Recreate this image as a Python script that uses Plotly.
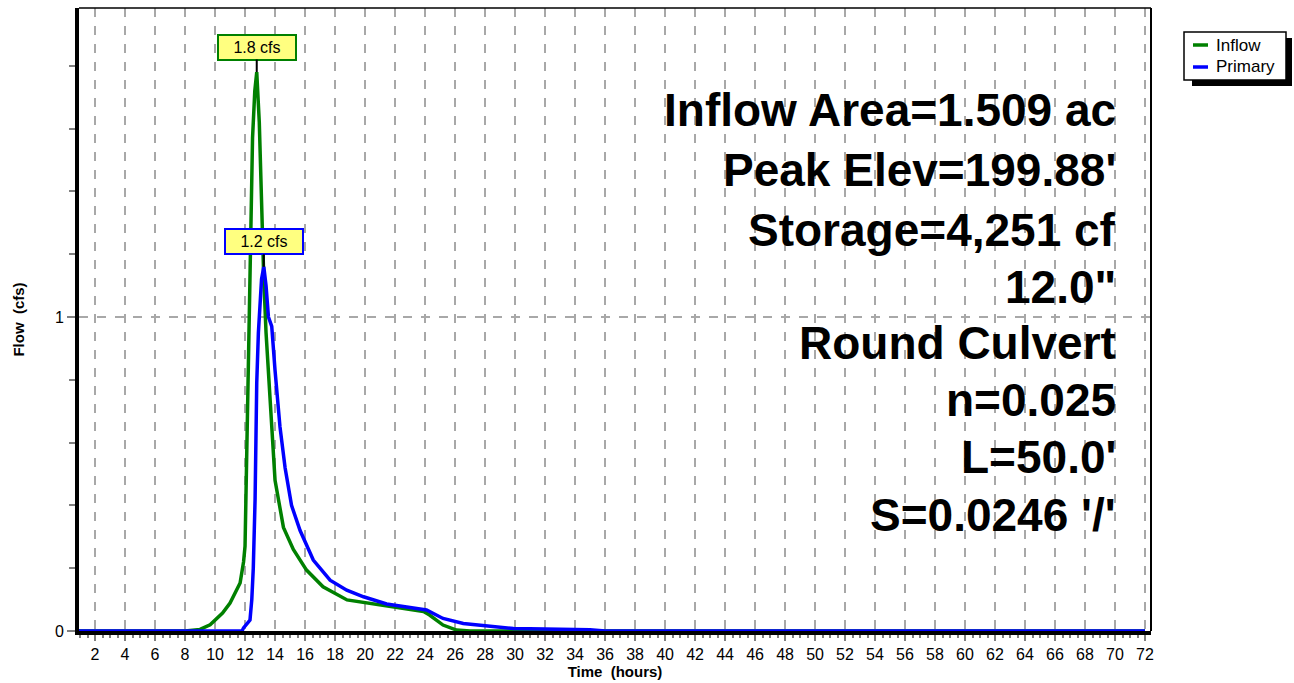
import plotly.graph_objects as go

# ---- data ----
inflow_t = [0, 8.0, 9.0, 9.67, 10.5, 11.0, 11.67, 11.9, 12.0, 12.05, 12.15, 12.3, 12.4, 12.5, 12.65, 12.78,
            12.95, 13.1, 13.25, 13.4, 13.55, 13.7, 13.85, 14.0, 14.56, 15.22, 16.1, 17.2, 18.8, 21.0, 23.9,
            24.3, 25.2, 26.1, 27.0, 72.0]
inflow_q = [0, 0, 0.005, 0.02, 0.057, 0.089, 0.153, 0.22, 0.27, 0.40, 0.70, 0.95, 1.2, 1.57, 1.72, 1.78,
            1.62, 1.36, 1.12, 0.95, 0.82, 0.69, 0.58, 0.48, 0.33, 0.26, 0.194, 0.141, 0.099, 0.083, 0.062,
            0.051, 0.019, 0.003, 0.0, 0.0]

primary_t = [0, 11.8, 11.9, 12.0, 12.33, 12.45, 12.55, 12.67, 12.78, 12.89, 13.0, 13.1, 13.25, 13.4, 13.56,
             13.78, 14.0, 14.33, 14.67, 15.1, 15.67, 16.55, 17.67, 18.78, 19.9, 21.44, 24.1, 25.2, 26.55,
             28.55, 29.9, 32.0, 35.0, 36.0, 72.0]
primary_q = [0, 0, 0.01, 0.015, 0.035, 0.1, 0.2, 0.42, 0.79, 0.95, 1.06, 1.12, 1.16, 1.1, 1.0,
             0.97, 0.83, 0.65, 0.52, 0.40, 0.32, 0.226, 0.162, 0.13, 0.109, 0.086, 0.067, 0.04, 0.024,
             0.014, 0.008, 0.006, 0.004, 0.0, 0.0]

series_names = ["Inflow", "Primary"]
peak_labels = ["1.8 cfs", "1.2 cfs"]
peak_points = [(12.78, 1.78), (13.25, 1.16)]

x_ticks = list(range(2, 73, 2))
y_ticks = [0, 1]

info_lines = ["Inflow Area=1.509 ac", "Peak Elev=199.88'", "Storage=4,251 cf", '12.0"',
              "Round Culvert", "n=0.025", "L=50.0'", "S=0.0246 '/'"]
info_y_px = [110, 170, 230, 287, 343, 400, 457, 515]

# ---- layout geometry ----
W, H = 1294, 683
L, R, T, B = 79, 1151, 8, 631

def py(ypx):
    return (B - ypx) / (B - T)

def px(xpx):
    return (xpx - L) / (R - L)

FONT = "Liberation Sans, Arial, sans-serif"
GREEN = "#008000"
BLUE = "#0000FF"
colors = [GREEN, BLUE]

fig = go.Figure()
fig.add_trace(go.Scatter(x=inflow_t, y=inflow_q, mode="lines", name=series_names[0],
                         line=dict(color=GREEN, width=3.5)))
fig.add_trace(go.Scatter(x=primary_t, y=primary_q, mode="lines", name=series_names[1],
                         line=dict(color=BLUE, width=3.5)))

annotations = []
for (lbl, (xp, yp), col) in zip(peak_labels, peak_points, colors):
    annotations.append(dict(x=xp, y=yp, xref="x", yref="y", text=lbl, showarrow=True,
                            arrowhead=0, arrowwidth=2, arrowcolor="black", ax=0, ay=-25,
                            bgcolor="#FFFF80", bordercolor=col, borderwidth=2, borderpad=1,
                            width=74, height=21,
                            font=dict(family=FONT, size=16, color="black")))

for txt, ypx in zip(info_lines, info_y_px):
    annotations.append(dict(x=px(1118), y=py(ypx), xref="paper", yref="paper", text=txt,
                            showarrow=False, xanchor="right", yanchor="middle",
                            font=dict(family=FONT, size=46, color="black", weight="bold")))

shapes = [
    # legend shadow and box
    dict(type="rect", xref="paper", yref="paper", x0=px(1192), x1=px(1292), y0=py(38), y1=py(86),
         fillcolor="black", line=dict(width=0)),
    dict(type="rect", xref="paper", yref="paper", x0=px(1184), x1=px(1286), y0=py(32), y1=py(80),
         fillcolor="white", line=dict(color="black", width=1.5)),
    # top and right frame
    dict(type="line", xref="paper", yref="paper", x0=0, x1=1, y0=1, y1=1,
         line=dict(color="black", width=1.5)),
    dict(type="line", xref="paper", yref="paper", x0=1, x1=1, y0=0, y1=1,
         line=dict(color="black", width=2)),
]
# legend entries
for i, (name, col) in enumerate(zip(series_names, colors)):
    yy = 45 + 22 * i
    shapes.append(dict(type="line", xref="paper", yref="paper", x0=px(1193), x1=px(1208),
                       y0=py(yy), y1=py(yy), line=dict(color=col, width=3.5)))
    annotations.append(dict(x=px(1214), y=py(yy), xref="paper", yref="paper", text=name,
                            showarrow=False, xanchor="left", yanchor="middle",
                            font=dict(family=FONT, size=17, color="black")))

fig.update_layout(
    width=W, height=H,
    margin=dict(l=L, r=W - R, t=T, b=H - B, autoexpand=False),
    paper_bgcolor="white", plot_bgcolor="white",
    font=dict(family=FONT, size=16, color="black"),
    showlegend=False,
    annotations=annotations,
    shapes=shapes,
    xaxis=dict(range=[0.93, 72.4], tickmode="array", tickvals=x_ticks,
               ticktext=[str(v) for v in x_ticks],
               showgrid=True, gridcolor="#A8A8A8", griddash="dash", gridwidth=1.5,
               showline=True, linecolor="black", linewidth=4,
               ticks="outside", ticklen=6, tickcolor="#808080", tickwidth=1.5,
               minor=dict(dtick=0.5, tick0=0, ticks="outside", ticklen=3, tickcolor="#808080",
                          showgrid=False),
               zeroline=False,
               title=dict(text="Time  (hours)", font=dict(size=15, weight="bold"), standoff=4),
               tickfont=dict(size=16)),
    yaxis=dict(range=[0, 1.984], tickmode="array", tickvals=y_ticks,
               showgrid=True, gridcolor="#A8A8A8", griddash="dash", gridwidth=1.5,
               showline=True, linecolor="black", linewidth=4,
               ticks="outside", ticklen=8, tickcolor="#808080", tickwidth=1.5,
               minor=dict(dtick=0.2, tick0=0, ticks="outside", ticklen=6, tickcolor="#808080",
                          showgrid=False),
               zeroline=False,
               title=dict(text="Flow  (cfs)", font=dict(size=15, weight="bold"), standoff=28),
               tickfont=dict(size=16)),
)

fig.write_html("out.html", config={"displayModeBar": False},
               post_script="document.body.style.margin='0';")
